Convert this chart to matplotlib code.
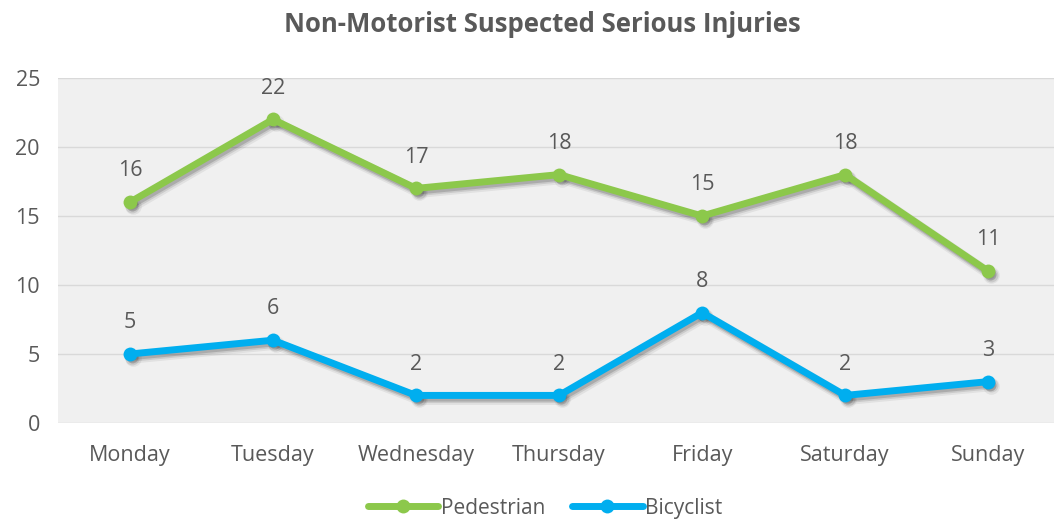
import matplotlib.pyplot as plt
from matplotlib import transforms

# ---------- Data ----------
days = ["Monday", "Tuesday", "Wednesday", "Thursday", "Friday", "Saturday", "Sunday"]
pedestrian = [16, 22, 17, 18, 15, 18, 11]
bicyclist = [5, 6, 2, 2, 8, 2, 3]

# ---------- Style ----------
GREEN = '#8cc84b'
BLUE = '#00aeef'
TXT = '#595959'
plt.rcParams['font.family'] = ['Open Sans', 'DejaVu Sans']

fig = plt.figure(figsize=(10.54, 5.2), dpi=100)
ax = fig.add_axes([0.055, 0.1865, 0.945, 0.6635])
ax.set_facecolor('#f0f0f0')

x = list(range(len(days)))

for ys, col, name in [(pedestrian, GREEN, 'Pedestrian'), (bicyclist, BLUE, 'Bicyclist')]:
    # soft drop shadow
    for (dx, dy, a, w) in [(3, -4, 0.06, 8), (2.5, -3.5, 0.10, 6), (2, -3, 0.15, 4.5)]:
        tr = transforms.offset_copy(ax.transData, fig=fig, x=dx, y=dy, units='dots')
        ax.plot(x, ys, '-o', color='black', alpha=a, lw=w, ms=w + 4, mew=0,
                transform=tr, zorder=2, solid_capstyle='round')
    ax.plot(x, ys, '-o', color=col, lw=5, ms=10, mew=0, label=name, zorder=3,
            solid_capstyle='round')
    for xi, yi in zip(x, ys):
        ax.annotate(str(yi), (xi, yi), xytext=(0, 15), textcoords='offset points',
                    ha='center', va='bottom', color=TXT, fontsize=15.5)

ax.set_xlim(-0.503, 6.46)
ax.set_ylim(0, 25)
ax.set_yticks(range(0, 26, 5))
ax.set_xticks(x)
ax.set_xticklabels(days)
ax.tick_params(length=0, labelsize=15.5, labelcolor=TXT)
ax.tick_params(axis='x', pad=16)
ax.tick_params(axis='y', pad=13)
ax.grid(axis='y', color='#d9d9d9', lw=1)
ax.set_axisbelow(True)
for s in ax.spines.values():
    s.set_visible(False)

fig.text(0.515, 0.952, "Non-Motorist Suspected Serious Injuries", ha='center', va='center',
         fontsize=18.5, fontweight='bold', color=TXT)

leg = fig.legend(loc='center', bbox_to_anchor=(0.517, 0.023), ncol=2, frameon=False,
                 fontsize=15, handlelength=3.4, handletextpad=0.1, columnspacing=1.3,
                 markerscale=1.0)
for t in leg.get_texts():
    t.set_color(TXT)

fig.savefig("out.png", dpi=100)
